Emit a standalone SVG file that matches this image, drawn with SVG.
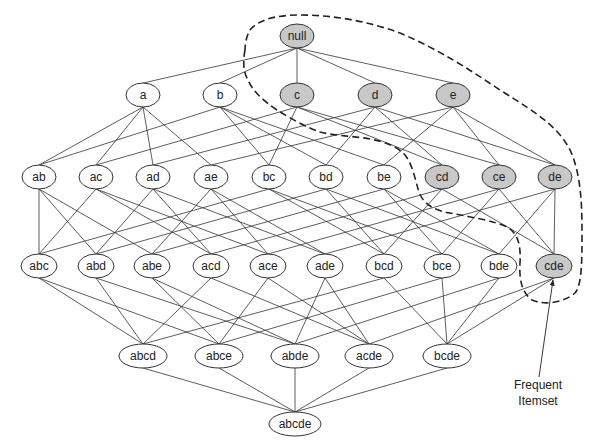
<svg xmlns="http://www.w3.org/2000/svg" width="614" height="446" viewBox="0 0 614 446">
<defs>
<style>
.n ellipse{fill:#fff;stroke:#333;stroke-width:1}
.n.f ellipse{fill:#c8c8c8}
.n text{font-family:"Liberation Sans",Arial,sans-serif;font-size:12px;fill:#222;text-anchor:middle}
#edges line{stroke:#333;stroke-width:0.8}
.lbl{font-family:"Liberation Sans",Arial,sans-serif;font-size:12px;fill:#222;text-anchor:middle}
</style>
<marker id="ah" viewBox="0 0 10 10" refX="9" refY="5" markerWidth="7" markerHeight="7" orient="auto">
<path d="M0,1 L10,5 L0,9 z" fill="#222"/>
</marker>
</defs>
<rect width="614" height="446" fill="#fff"/>
<g id="edges">
<line x1="297" y1="48" x2="143" y2="83"/>
<line x1="297" y1="48" x2="220" y2="83"/>
<line x1="297" y1="48" x2="297" y2="83"/>
<line x1="297" y1="48" x2="375" y2="83"/>
<line x1="297" y1="48" x2="453" y2="83"/>
<line x1="143" y1="107" x2="39" y2="165"/>
<line x1="143" y1="107" x2="96" y2="165"/>
<line x1="143" y1="107" x2="153" y2="165"/>
<line x1="143" y1="107" x2="211" y2="165"/>
<line x1="220" y1="107" x2="39" y2="165"/>
<line x1="220" y1="107" x2="269" y2="165"/>
<line x1="220" y1="107" x2="326" y2="165"/>
<line x1="220" y1="107" x2="384" y2="165"/>
<line x1="297" y1="107" x2="96" y2="165"/>
<line x1="297" y1="107" x2="269" y2="165"/>
<line x1="297" y1="107" x2="442" y2="165"/>
<line x1="297" y1="107" x2="499" y2="165"/>
<line x1="375" y1="107" x2="153" y2="165"/>
<line x1="375" y1="107" x2="326" y2="165"/>
<line x1="375" y1="107" x2="442" y2="165"/>
<line x1="375" y1="107" x2="555" y2="165"/>
<line x1="453" y1="107" x2="211" y2="165"/>
<line x1="453" y1="107" x2="384" y2="165"/>
<line x1="453" y1="107" x2="499" y2="165"/>
<line x1="453" y1="107" x2="555" y2="165"/>
<line x1="39" y1="189" x2="39" y2="254"/>
<line x1="39" y1="189" x2="96" y2="254"/>
<line x1="39" y1="189" x2="152" y2="254"/>
<line x1="96" y1="189" x2="39" y2="254"/>
<line x1="96" y1="189" x2="211" y2="254"/>
<line x1="96" y1="189" x2="268" y2="254"/>
<line x1="153" y1="189" x2="96" y2="254"/>
<line x1="153" y1="189" x2="211" y2="254"/>
<line x1="153" y1="189" x2="325" y2="254"/>
<line x1="211" y1="189" x2="152" y2="254"/>
<line x1="211" y1="189" x2="268" y2="254"/>
<line x1="211" y1="189" x2="325" y2="254"/>
<line x1="269" y1="189" x2="39" y2="254"/>
<line x1="269" y1="189" x2="384" y2="254"/>
<line x1="269" y1="189" x2="442" y2="254"/>
<line x1="326" y1="189" x2="96" y2="254"/>
<line x1="326" y1="189" x2="384" y2="254"/>
<line x1="326" y1="189" x2="499" y2="254"/>
<line x1="384" y1="189" x2="152" y2="254"/>
<line x1="384" y1="189" x2="442" y2="254"/>
<line x1="384" y1="189" x2="499" y2="254"/>
<line x1="442" y1="189" x2="211" y2="254"/>
<line x1="442" y1="189" x2="384" y2="254"/>
<line x1="442" y1="189" x2="554" y2="254"/>
<line x1="499" y1="189" x2="268" y2="254"/>
<line x1="499" y1="189" x2="442" y2="254"/>
<line x1="499" y1="189" x2="554" y2="254"/>
<line x1="555" y1="189" x2="325" y2="254"/>
<line x1="555" y1="189" x2="499" y2="254"/>
<line x1="555" y1="189" x2="554" y2="254"/>
<line x1="39" y1="278" x2="143" y2="344"/>
<line x1="39" y1="278" x2="219" y2="344"/>
<line x1="96" y1="278" x2="143" y2="344"/>
<line x1="96" y1="278" x2="295" y2="344"/>
<line x1="152" y1="278" x2="219" y2="344"/>
<line x1="152" y1="278" x2="295" y2="344"/>
<line x1="211" y1="278" x2="143" y2="344"/>
<line x1="211" y1="278" x2="369" y2="344"/>
<line x1="268" y1="278" x2="219" y2="344"/>
<line x1="268" y1="278" x2="369" y2="344"/>
<line x1="325" y1="278" x2="295" y2="344"/>
<line x1="325" y1="278" x2="369" y2="344"/>
<line x1="384" y1="278" x2="143" y2="344"/>
<line x1="384" y1="278" x2="447" y2="344"/>
<line x1="442" y1="278" x2="219" y2="344"/>
<line x1="442" y1="278" x2="447" y2="344"/>
<line x1="499" y1="278" x2="295" y2="344"/>
<line x1="499" y1="278" x2="447" y2="344"/>
<line x1="554" y1="278" x2="369" y2="344"/>
<line x1="554" y1="278" x2="447" y2="344"/>
<line x1="143" y1="368" x2="295" y2="412"/>
<line x1="219" y1="368" x2="295" y2="412"/>
<line x1="295" y1="368" x2="295" y2="412"/>
<line x1="369" y1="368" x2="295" y2="412"/>
<line x1="447" y1="368" x2="295" y2="412"/>
</g>
<path id="frequent-boundary" d="M245,50 C243,60 243,72 248,80 C252,90 262,100 277,110 C290,118 305,127 320,132 C335,136 355,136 370,139 C385,142 397,146 405,155 C413,165 415,180 419,192 C423,203 432,210 450,213 C470,217 495,221 507,227 C518,233 521,245 520,263 C519,280 522,293 532,300 C545,306 565,302 575,293 C582,285 582,260 582,233 C582,205 581,180 573,157 C563,130 540,115 500,90 C470,70 440,50 400,33 C370,22 335,15 300,15 C275,15 258,20 250,30 C246,37 245,45 245,50 Z" fill="none" stroke="#222" stroke-width="1.6" stroke-dasharray="7,4"/>
<g id="n-null" class="n f"><ellipse cx="297" cy="36" rx="17" ry="12"/><text x="297" y="40">null</text></g>
<g id="n-a" class="n"><ellipse cx="143" cy="95" rx="17" ry="12"/><text x="143" y="99">a</text></g>
<g id="n-b" class="n"><ellipse cx="220" cy="95" rx="17" ry="12"/><text x="220" y="99">b</text></g>
<g id="n-c" class="n f"><ellipse cx="297" cy="95" rx="17" ry="12"/><text x="297" y="99">c</text></g>
<g id="n-d" class="n f"><ellipse cx="375" cy="95" rx="17" ry="12"/><text x="375" y="99">d</text></g>
<g id="n-e" class="n f"><ellipse cx="453" cy="95" rx="17" ry="12"/><text x="453" y="99">e</text></g>
<g id="n-ab" class="n"><ellipse cx="39" cy="177" rx="17" ry="12"/><text x="39" y="181">ab</text></g>
<g id="n-ac" class="n"><ellipse cx="96" cy="177" rx="17" ry="12"/><text x="96" y="181">ac</text></g>
<g id="n-ad" class="n"><ellipse cx="153" cy="177" rx="17" ry="12"/><text x="153" y="181">ad</text></g>
<g id="n-ae" class="n"><ellipse cx="211" cy="177" rx="17" ry="12"/><text x="211" y="181">ae</text></g>
<g id="n-bc" class="n"><ellipse cx="269" cy="177" rx="17" ry="12"/><text x="269" y="181">bc</text></g>
<g id="n-bd" class="n"><ellipse cx="326" cy="177" rx="17" ry="12"/><text x="326" y="181">bd</text></g>
<g id="n-be" class="n"><ellipse cx="384" cy="177" rx="17" ry="12"/><text x="384" y="181">be</text></g>
<g id="n-cd" class="n f"><ellipse cx="442" cy="177" rx="17" ry="12"/><text x="442" y="181">cd</text></g>
<g id="n-ce" class="n f"><ellipse cx="499" cy="177" rx="17" ry="12"/><text x="499" y="181">ce</text></g>
<g id="n-de" class="n f"><ellipse cx="555" cy="177" rx="17" ry="12"/><text x="555" y="181">de</text></g>
<g id="n-abc" class="n"><ellipse cx="39" cy="266" rx="18" ry="12"/><text x="39" y="270">abc</text></g>
<g id="n-abd" class="n"><ellipse cx="96" cy="266" rx="18" ry="12"/><text x="96" y="270">abd</text></g>
<g id="n-abe" class="n"><ellipse cx="152" cy="266" rx="18" ry="12"/><text x="152" y="270">abe</text></g>
<g id="n-acd" class="n"><ellipse cx="211" cy="266" rx="18" ry="12"/><text x="211" y="270">acd</text></g>
<g id="n-ace" class="n"><ellipse cx="268" cy="266" rx="18" ry="12"/><text x="268" y="270">ace</text></g>
<g id="n-ade" class="n"><ellipse cx="325" cy="266" rx="18" ry="12"/><text x="325" y="270">ade</text></g>
<g id="n-bcd" class="n"><ellipse cx="384" cy="266" rx="18" ry="12"/><text x="384" y="270">bcd</text></g>
<g id="n-bce" class="n"><ellipse cx="442" cy="266" rx="18" ry="12"/><text x="442" y="270">bce</text></g>
<g id="n-bde" class="n"><ellipse cx="499" cy="266" rx="18" ry="12"/><text x="499" y="270">bde</text></g>
<g id="n-cde" class="n f"><ellipse cx="554" cy="266" rx="18" ry="12"/><text x="554" y="270">cde</text></g>
<g id="n-abcd" class="n"><ellipse cx="143" cy="356" rx="24" ry="12"/><text x="143" y="360">abcd</text></g>
<g id="n-abce" class="n"><ellipse cx="219" cy="356" rx="24" ry="12"/><text x="219" y="360">abce</text></g>
<g id="n-abde" class="n"><ellipse cx="295" cy="356" rx="24" ry="12"/><text x="295" y="360">abde</text></g>
<g id="n-acde" class="n"><ellipse cx="369" cy="356" rx="24" ry="12"/><text x="369" y="360">acde</text></g>
<g id="n-bcde" class="n"><ellipse cx="447" cy="356" rx="24" ry="12"/><text x="447" y="360">bcde</text></g>
<g id="n-abcde" class="n"><ellipse cx="295" cy="424" rx="26" ry="12"/><text x="295" y="428">abcde</text></g>
<g id="callout">
<line x1="539" y1="377" x2="553" y2="280" stroke="#222" stroke-width="0.9" marker-end="url(#ah)"/>
<text class="lbl" x="538" y="389">Frequent</text>
<text class="lbl" x="538" y="405">Itemset</text>
</g>
</svg>
